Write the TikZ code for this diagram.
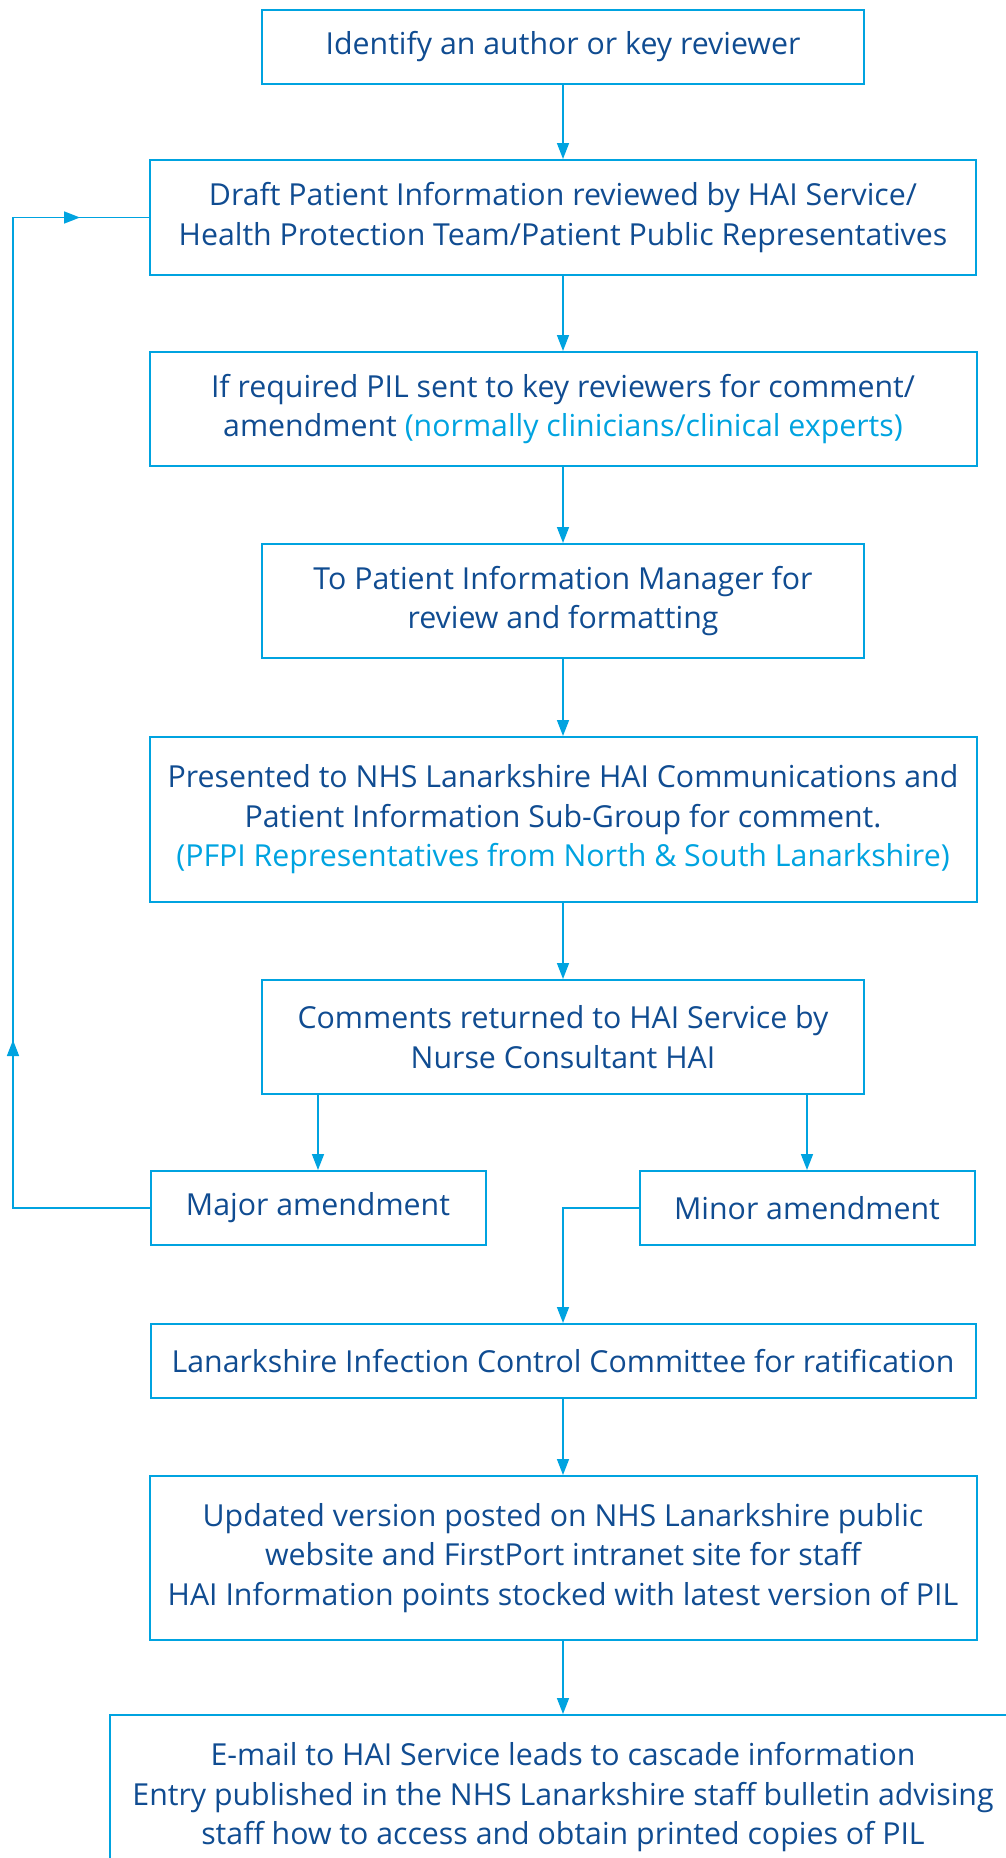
\documentclass[tikz,border=0pt]{standalone}
\usepackage{fontspec}
\setmainfont{Open Sans}
\usetikzlibrary{arrows.meta}
\definecolor{nhsline}{RGB}{0,163,224}
\definecolor{nhstext}{RGB}{16,76,145}
\tikzset{
  stepbox/.style={draw=nhsline, line width=2pt, text=nhstext, align=center,
    inner sep=0pt, font=\fontsize{30.3}{39.5}\selectfont},
  link/.style={draw=nhsline, line width=1.6pt},
  arr/.style={link, -{Triangle[length=16pt,width=12pt]}},
}
\newcommand{\aside}[1]{{\color{nhsline}#1}}
\begin{document}
\begin{tikzpicture}[x=1pt,y=-1pt]
  \useasboundingbox (0,0) rectangle (1006,1858);
  \node[stepbox, minimum width=602pt, minimum height=74pt] (ident) at (563,46.5)
    {Identify an author or key reviewer};
  \node[stepbox, minimum width=826pt, minimum height=115pt] (draft) at (563,217.5)
    {Draft Patient Information reviewed by HAI Service/\\Health Protection Team/Patient Public Representatives};
  \node[stepbox, minimum width=827pt, minimum height=114pt] (pil) at (563,409)
    {If required PIL sent to key reviewers for comment/\\amendment \aside{(normally clinicians/clinical experts)}};
  \node[stepbox, minimum width=602pt, minimum height=114pt] (manager) at (563,601)
    {To Patient Information Manager for\\review and formatting};
  \node[stepbox, minimum width=827pt, minimum height=165pt] (subgroup) at (563,819.5)
    {Presented to NHS Lanarkshire HAI Communications and\\Patient Information Sub-Group for comment.\\\aside{(PFPI Representatives from North \& South Lanarkshire)}};
  \node[stepbox, minimum width=602pt, minimum height=114pt] (comments) at (563,1037)
    {Comments returned to HAI Service by\\Nurse Consultant HAI};
  \node[stepbox, minimum width=335pt, minimum height=74pt] (major) at (318,1208)
    {Major amendment};
  \node[stepbox, minimum width=335pt, minimum height=74pt] (minor) at (807,1208)
    {Minor amendment};
  \node[stepbox, minimum width=825pt, minimum height=74pt] (ratify) at (563,1361)
    {Lanarkshire Infection Control Committee for ratification};
  \node[stepbox, minimum width=827pt, minimum height=164pt] (website) at (563,1558)
    {Updated version posted on NHS Lanarkshire public\\website and FirstPort intranet site for staff\\HAI Information points stocked with latest version of PIL};
  \node[stepbox, minimum width=906pt, minimum height=165pt] (email) at (563,1797.5)
    {E-mail to HAI Service leads to cascade information\\Entry published in the NHS Lanarkshire staff bulletin advising\\staff how to access and obtain printed copies of PIL};

  % main flow
  \draw[arr] (ident) -- (draft);
  \draw[arr] (draft) -- (pil);
  \draw[arr] (pil) -- (manager);
  \draw[arr] (manager) -- (subgroup);
  \draw[arr] (subgroup) -- (comments);
  \draw[arr] (comments.south -| major.north) -- (major.north);
  \draw[arr] (comments.south -| minor.north) -- (minor.north);
  \draw[arr] (minor.west) -| (ratify.north);
  \draw[arr] (ratify) -- (website);
  \draw[arr] (website) -- (email);

  % loop back for major amendment
  \coordinate (loopbot) at (13,1208);
  \coordinate (looptop) at (13,217.5);
  \draw[link] (major.west) -- (loopbot) -- (looptop) -- (draft.west);
  \draw[arr] (loopbot) -- (13,1040);
  \draw[arr] (looptop) -- (80,217.5);
\end{tikzpicture}
\end{document}
